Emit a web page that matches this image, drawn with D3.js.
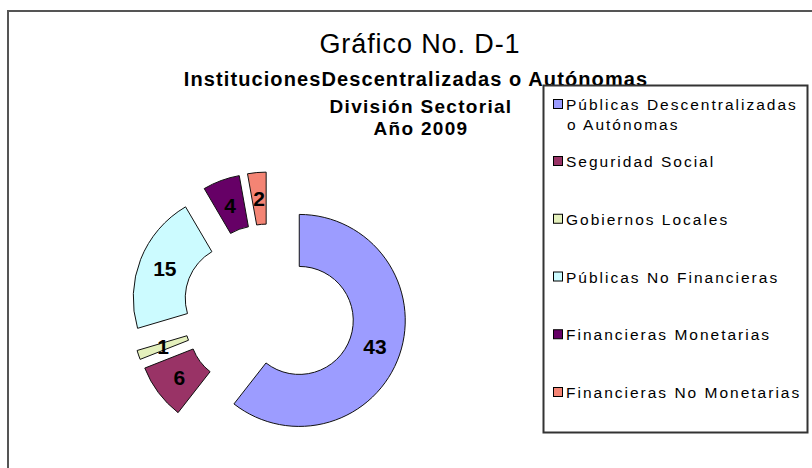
<!DOCTYPE html>
<html>
<head>
<meta charset="utf-8">
<script src="https://cdn.jsdelivr.net/npm/d3@7.9.0/dist/d3.min.js"></script>
<style>
  body { margin: 0; background: #fff; }
  svg { display: block; font-family: "Liberation Sans", Arial, sans-serif; }
</style>
</head>
<body>
<svg id="chart" width="812" height="468"></svg>
<script>
// data
const categories = [
    'Públicas Descentralizadas o Autónomas',
    'Seguridad Social',
    'Gobiernos Locales',
    'Públicas No Financieras',
    'Financieras Monetarias',
    'Financieras No Monetarias'
];
const legendLines = [
    ['Públicas Descentralizadas', 'o Autónomas'],
    ['Seguridad Social'],
    ['Gobiernos Locales'],
    ['Públicas No Financieras'],
    ['Financieras Monetarias'],
    ['Financieras No Monetarias']
];
const values = [43, 6, 1, 15, 4, 2];
const colors = ['#9c9cff', '#993366', '#e4f0bc', '#ccfbff', '#660066', '#f48474'];
const titleLines = ['Gráfico No. D-1'];
const subtitleLines = ['InstitucionesDescentralizadas o Autónomas', 'División Sectorial', 'Año 2009'];

const svg = d3.select('#chart');

// outer chart frame (runs off the right and bottom edge)
svg.append('rect')
    .attr('x', 8).attr('y', 11)
    .attr('width', 900).attr('height', 600)
    .attr('fill', '#fff')
    .attr('stroke', '#555')
    .attr('stroke-width', 2);

// titles
svg.append('text')
    .attr('x', 420).attr('y', 53)
    .attr('text-anchor', 'middle')
    .attr('font-size', 27)
    .attr('letter-spacing', 0.9)
    .text(titleLines[0]);

const subY = [86, 113, 135];
subtitleLines.forEach((t, i) => {
    svg.append('text')
        .attr('x', i === 0 ? 416 : 421).attr('y', subY[i])
        .attr('text-anchor', 'middle')
        .attr('font-size', i === 0 ? 20 : 19)
        .attr('font-weight', 'bold')
        .attr('letter-spacing', i === 0 ? 1.1 : 1.3)
        .text(t);
});

// exploded doughnut
const cx = 269, cy = 310, rOuter = 106, rInner = 54, explode = 32;
const pie = d3.pie().sort(null).value(d => d);
const arc = d3.arc().innerRadius(rInner).outerRadius(rOuter);
const arcs = pie(values);

const g = svg.append('g').attr('transform', `translate(${cx},${cy})`);

arcs.forEach((d, i) => {
    const mid = (d.startAngle + d.endAngle) / 2;
    const dx = Math.sin(mid) * explode;
    const dy = -Math.cos(mid) * explode;
    const sg = g.append('g').attr('transform', `translate(${dx},${dy})`);
    sg.append('path')
        .attr('d', arc(d))
        .attr('fill', colors[i])
        .attr('stroke', '#111')
        .attr('stroke-width', 1);
    const [lx, ly] = arc.centroid(d);
    sg.append('text')
        .attr('x', lx).attr('y', ly)
        .attr('text-anchor', 'middle')
        .attr('dy', '0.36em')
        .attr('font-size', 21)
        .attr('font-weight', 'bold')
        .attr('fill', '#000')
        .text(values[i]);
});

// legend
const legend = svg.append('g');
legend.append('rect')
    .attr('x', 543.5).attr('y', 85.5)
    .attr('width', 264).attr('height', 347)
    .attr('fill', '#fff')
    .attr('stroke', '#333')
    .attr('stroke-width', 2);

const legendY = d3.scaleLinear().domain([1, 5]).range([167, 398]);
legendLines.forEach((lines, i) => {
    const y = i === 0 ? 110 : legendY(i);
    legend.append('rect')
        .attr('x', 553.5).attr('y', y - 10.5)
        .attr('width', 9).attr('height', 9)
        .attr('fill', colors[i])
        .attr('stroke', '#000');
    lines.forEach((t, j) => {
        legend.append('text')
            .attr('x', j === 0 ? 566 : 567).attr('y', y + j * 20)
            .attr('font-size', 15.5)
            .attr('letter-spacing', 2)
            .attr('fill', '#000')
            .text(t);
    });
});
</script>
</body>
</html>
